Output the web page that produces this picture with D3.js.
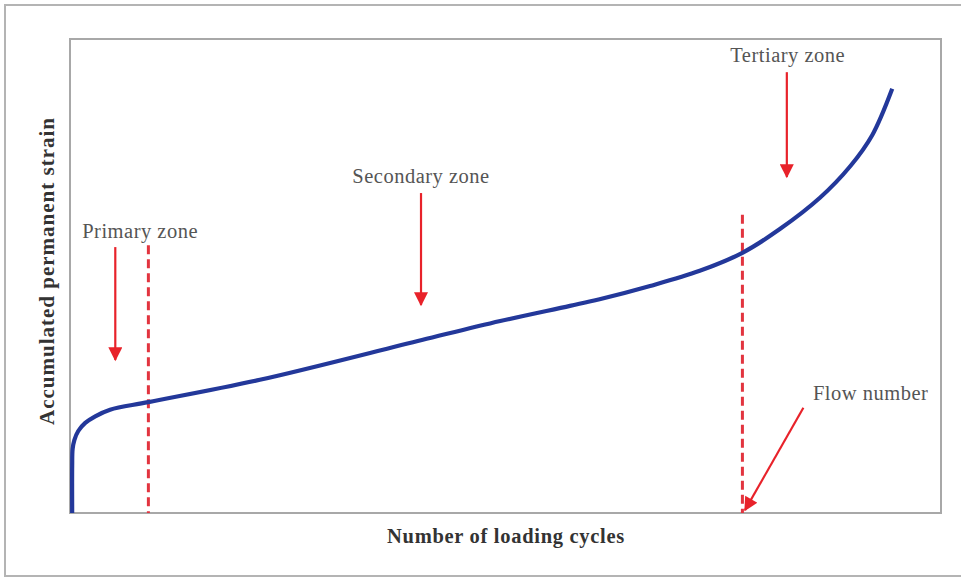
<!DOCTYPE html>
<html>
<head>
<meta charset="utf-8">
<script src="https://cdn.jsdelivr.net/npm/d3@7"></script>
<style>
  html, body { margin: 0; padding: 0; background: #fff; }
  svg { display: block; }
</style>
</head>
<body>
<svg id="chart" width="961" height="577"></svg>
<script>
// Accumulated permanent strain vs. number of loading cycles (relative units, 0-100)
const cycles = [0.25, 0.25, 0.3, 0.5, 0.95, 1.75, 2.9, 4.6, 9.0, 21.8, 40.4, 49.4, 57.4, 60.8, 66.6, 72.3, 77.2, 81.5, 86.1, 89.6, 92.1, 94.4];
const strain = [0, 10.0, 13.5, 15.4, 17.3, 19.0, 20.4, 21.8, 23.4, 28.1, 36.5, 40.5, 43.7, 45.1, 47.9, 51.1, 54.9, 59.9, 66.5, 73.2, 79.7, 89.5];

// Zone boundaries (dashed verticals): end of primary zone, flow number
const boundaryX = [9.0, 77.2];
const boundaryTop = [56.5, 62.9];

// Zone annotations: label text, label anchor, arrow start and tip (data units)
const labels = ["Primary zone", "Secondary zone", "Tertiary zone", "Flow number"];
const labelX = [1.4, 40.3, 82.4, 85.3];
const labelY = [58.0, 69.6, 95.1, 23.8];
const labelAnchor = ["start", "middle", "middle", "start"];
const arrowX0 = [5.2, 40.3, 82.3, 84.2];
const arrowY0 = [56.1, 67.5, 93.0, 22.2];
const arrowX1 = [5.2, 40.3, 82.3, 77.5];
const arrowY1 = [32.3, 43.9, 70.9, 0.6];

const xTitle = "Number of loading cycles";
const yTitle = "Accumulated permanent strain";

const svg = d3.select("#chart");
const plot = { left: 70, top: 39, right: 941, bottom: 513 };

const x = d3.scaleLinear().domain([0, 100]).range([plot.left, plot.right]);
const y = d3.scaleLinear().domain([0, 100]).range([plot.bottom, plot.top]);

const serif = "'Liberation Serif', 'DejaVu Serif', serif";

// outer frame
svg.append("rect")
  .attr("x", 5).attr("y", 5).attr("width", 970).attr("height", 571)
  .attr("fill", "none").attr("stroke", "#b4b4b4").attr("stroke-width", 2);

// plot frame
svg.append("rect")
  .attr("x", plot.left).attr("y", plot.top)
  .attr("width", plot.right - plot.left).attr("height", plot.bottom - plot.top)
  .attr("fill", "none").attr("stroke", "#a8a8a8").attr("stroke-width", 2);

const red = "#e8222a";

// dashed zone boundaries
svg.selectAll("line.boundary")
  .data(boundaryX)
  .join("line")
  .attr("class", "boundary")
  .attr("x1", d => x(d)).attr("x2", d => x(d))
  .attr("y1", (d, i) => y(boundaryTop[i])).attr("y2", y(0))
  .attr("stroke", "#e2343f").attr("stroke-width", 3)
  .attr("stroke-dasharray", "9,5");

// strain curve
const pts = cycles.map((c, i) => [c, strain[i]]);
svg.append("path")
  .datum(pts)
  .attr("fill", "none")
  .attr("stroke", "#23389a")
  .attr("stroke-width", 4.2)
  .attr("stroke-linejoin", "round")
  .attr("d", d3.line().x(d => x(d[0])).y(d => y(d[1])).curve(d3.curveCatmullRom.alpha(0.5)));

// arrowheads
svg.append("defs").append("marker")
  .attr("id", "head")
  .attr("viewBox", "0 0 10 10")
  .attr("refX", 9).attr("refY", 5)
  .attr("markerUnits", "userSpaceOnUse")
  .attr("markerWidth", 17).attr("markerHeight", 14)
  .attr("orient", "auto")
  .append("path")
  .attr("d", "M0,0 L10,5 L0,10 Z")
  .attr("fill", red);

svg.selectAll("line.arrow")
  .data(labels)
  .join("line")
  .attr("class", "arrow")
  .attr("x1", (d, i) => x(arrowX0[i])).attr("y1", (d, i) => y(arrowY0[i]))
  .attr("x2", (d, i) => x(arrowX1[i])).attr("y2", (d, i) => y(arrowY1[i]))
  .attr("stroke", red).attr("stroke-width", 2.2)
  .attr("marker-end", "url(#head)");

// annotation labels
svg.selectAll("text.zone")
  .data(labels)
  .join("text")
  .attr("class", "zone")
  .attr("x", (d, i) => x(labelX[i])).attr("y", (d, i) => y(labelY[i]))
  .attr("text-anchor", (d, i) => labelAnchor[i])
  .attr("font-family", serif)
  .attr("font-size", 20.5)
  .attr("letter-spacing", 0.5)
  .attr("fill", "#555")
  .text(d => d);

// axis titles
svg.append("text")
  .attr("x", (plot.left + plot.right) / 2 + 0.5).attr("y", 543)
  .attr("text-anchor", "middle")
  .attr("font-family", serif)
  .attr("font-weight", "bold")
  .attr("font-size", 20.5)
  .attr("letter-spacing", 0.7)
  .attr("fill", "#333")
  .text(xTitle);

svg.append("text")
  .attr("transform", "translate(54,271) rotate(-90)")
  .attr("text-anchor", "middle")
  .attr("font-family", serif)
  .attr("font-weight", "bold")
  .attr("font-size", 21)
  .attr("letter-spacing", 1.0)
  .attr("fill", "#333")
  .text(yTitle);
</script>
</body>
</html>
